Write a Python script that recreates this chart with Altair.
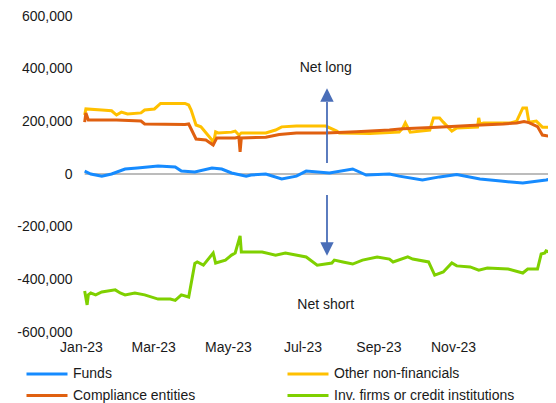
import altair as alt
import pandas as pd

# Legend order (Vega fills the 2-column legend column by column)
SERIES = ["Funds", "Compliance entities", "Other non-financials", "Inv. firms or credit institutions"]
COLORS = ["#168BFF", "#E06010", "#FFC000", "#7FD000"]

funds_dates = ["2023-01-04", "2023-01-09", "2023-01-18", "2023-01-26", "2023-02-06", "2023-02-16", "2023-03-05",
               "2023-03-19", "2023-03-24", "2023-04-04", "2023-04-18", "2023-04-26", "2023-05-04", "2023-05-16",
               "2023-05-20", "2023-06-01", "2023-06-14", "2023-06-26", "2023-07-04", "2023-07-23", "2023-08-11",
               "2023-08-22", "2023-09-10", "2023-09-18", "2023-10-07", "2023-10-21", "2023-11-04", "2023-11-23",
               "2023-12-10", "2023-12-28", "2024-01-16", "2024-01-24"]
funds_vals = [11000, 0, -8000, 0, 19000, 23000, 30000, 27000, 11000, 8000, 23000, 19000, 4000, -8000,
              -4000, 0, -19000, -8000, 11000, 4000, 19000, -4000, 0, -8000, -23000, -11000, -2000, -19000,
              -27000, -34000, -23000, -15000]

other_dates = ["2023-01-04", "2023-01-05", "2023-01-18", "2023-01-26", "2023-01-30", "2023-02-03", "2023-02-08",
               "2023-02-19", "2023-02-22", "2023-03-02", "2023-03-07", "2023-03-27", "2023-03-30", "2023-04-01",
               "2023-04-05", "2023-04-09", "2023-04-18", "2023-04-19", "2023-04-21", "2023-04-23", "2023-05-04",
               "2023-05-07", "2023-05-10", "2023-05-12", "2023-06-01", "2023-06-09", "2023-06-14", "2023-06-26",
               "2023-07-20", "2023-07-29", "2023-07-31", "2023-08-25", "2023-09-18", "2023-09-21", "2023-09-23",
               "2023-09-27", "2023-10-13", "2023-10-16", "2023-10-21", "2023-10-24", "2023-10-31", "2023-11-04",
               "2023-11-21", "2023-11-22", "2023-11-23", "2023-11-26", "2023-12-18", "2023-12-23", "2023-12-28",
               "2023-12-31", "2024-01-02", "2024-01-08", "2024-01-13", "2024-01-24"]
other_vals = [224000, 247000, 243000, 240000, 224000, 235000, 228000, 232000, 243000, 247000, 268000, 268000,
              262000, 243000, 186000, 179000, 129000, 110000, 160000, 156000, 159000, 163000, 148000, 156000,
              156000, 167000, 179000, 182000, 182000, 163000, 156000, 154000, 159000, 175000, 194000, 159000,
              167000, 213000, 213000, 197000, 163000, 175000, 178000, 213000, 190000, 194000, 194000, 201000,
              251000, 251000, 197000, 201000, 178000, 178000]

compl_dates = ["2023-01-04", "2023-01-05", "2023-01-07", "2023-01-30", "2023-02-19", "2023-02-22", "2023-03-27",
               "2023-03-30", "2023-04-05", "2023-04-13", "2023-04-19", "2023-04-22", "2023-05-07", "2023-05-10",
               "2023-05-11", "2023-05-12", "2023-06-01", "2023-06-12", "2023-06-26", "2023-07-20", "2023-08-14",
               "2023-09-10", "2023-09-21", "2023-10-19", "2023-11-15", "2023-12-12", "2023-12-23", "2023-12-29",
               "2024-01-02", "2024-01-09", "2024-01-13", "2024-01-24"]
compl_vals = [197000, 232000, 205000, 205000, 201000, 190000, 188000, 190000, 133000, 129000, 110000, 137000,
              137000, 140000, 84000, 137000, 140000, 150000, 156000, 156000, 160000, 167000, 172000, 178000,
              184000, 190000, 194000, 199000, 195000, 180000, 148000, 139000]

inv_dates = ["2023-01-04", "2023-01-06", "2023-01-07", "2023-01-09", "2023-01-13", "2023-01-18", "2023-01-29",
             "2023-02-02", "2023-02-06", "2023-02-14", "2023-02-22", "2023-03-05", "2023-03-15", "2023-03-19",
             "2023-03-24", "2023-03-30", "2023-04-04", "2023-04-06", "2023-04-11", "2023-04-19", "2023-04-21",
             "2023-04-29", "2023-05-04", "2023-05-07", "2023-05-11", "2023-05-12", "2023-05-29", "2023-06-09",
             "2023-06-17", "2023-07-04", "2023-07-13", "2023-07-25", "2023-07-27", "2023-08-03", "2023-08-11",
             "2023-08-19", "2023-08-31", "2023-09-10", "2023-09-13", "2023-09-25", "2023-09-29", "2023-10-12",
             "2023-10-17", "2023-10-24", "2023-10-31", "2023-11-04", "2023-11-15", "2023-11-22", "2023-11-29",
             "2023-12-16", "2023-12-28", "2024-01-01", "2024-01-09", "2024-01-12", "2024-01-15", "2024-01-16",
             "2024-01-21", "2024-01-24"]
inv_vals = [-444000, -497000, -459000, -452000, -459000, -448000, -440000, -452000, -459000, -452000, -459000,
            -475000, -475000, -480000, -459000, -467000, -340000, -334000, -346000, -300000, -338000, -327000,
            -308000, -300000, -235000, -296000, -296000, -308000, -300000, -315000, -346000, -338000, -327000,
            -334000, -342000, -327000, -315000, -323000, -334000, -315000, -323000, -334000, -384000, -372000,
            -338000, -349000, -353000, -365000, -357000, -361000, -376000, -361000, -361000, -304000, -300000,
            -292000, -300000, -308000]

y_ticks = [-600000, -400000, -200000, 0, 200000, 400000, 600000]
x_tick_months = [(2023, 1), (2023, 3), (2023, 5), (2023, 7), (2023, 9), (2023, 11)]

arrow_date = "2023-07-21"
arrow_rules = {"y": [273000, -80000], "y2": [42000, -262000]}
arrow_heads = {"y": [300000, -285000], "shape": ["M-1,1L1,1L0,-1Z", "M-1,-1L1,-1L0,1Z"]}
notes = {"text": ["Net long", "Net short"], "y": [402000, -497000]}
note_date = "2023-07-20"

frames = []
for name, d, v in [("Funds", funds_dates, funds_vals), ("Other non-financials", other_dates, other_vals),
                   ("Compliance entities", compl_dates, compl_vals),
                   ("Inv. firms or credit institutions", inv_dates, inv_vals)]:
    frames.append(pd.DataFrame({"date": pd.to_datetime(d), "value": v, "series": name}))
df = pd.concat(frames, ignore_index=True)

FONT = "Liberation Sans"
TXT = "#1a1a1a"

x_scale = alt.Scale(domain=[alt.DateTime(year=2023, month=1, date=1),
                            alt.DateTime(year=2024, month=1, date=17, hours=14)])
y_scale = alt.Scale(domain=[-600000, 600000])

x_axis = alt.Axis(values=[alt.DateTime(year=y, month=m, date=1) for y, m in x_tick_months], format="%b-%y",
                  title=None, grid=False, domain=False, ticks=False, labelPadding=8, labelFlush=False)
y_axis = alt.Axis(values=y_ticks, title=None, grid=False, domain=False, ticks=False, labelPadding=9,
                  labelFlush=False,
                  labelExpr="(datum.value < 0 ? '-' : '') + format(abs(datum.value), ',')")

color = alt.Color("series:N", sort=SERIES, scale=alt.Scale(domain=SERIES, range=COLORS),
                  legend=alt.Legend(orient="none", legendX=-56, legendY=350, columns=2, columnPadding=90,
                                    symbolType="stroke", symbolSize=1681, symbolStrokeWidth=3,
                                    labelFontSize=14, labelFont=FONT, labelColor=TXT, labelOffset=4,
                                    labelLimit=0, title=None, clipHeight=16, rowPadding=5.5, padding=0,
                                    offset=0))

zero_df = pd.DataFrame({"start": [df["date"].min()], "end": [df["date"].max()], "v": [0]})
zero = alt.Chart(zero_df).mark_rule(color="#A6A6A6", strokeWidth=1.5, clip=True).encode(
    x=alt.X("start:T", scale=x_scale, axis=x_axis), x2="end:T",
    y=alt.Y("v:Q", scale=y_scale, axis=y_axis))

base = alt.Chart(df).mark_line(strokeWidth=3, clip=True).encode(
    x=alt.X("date:T", scale=x_scale, axis=x_axis),
    y=alt.Y("value:Q", scale=y_scale, axis=y_axis),
    color=color,
    order=alt.Order("date:T"),
)
lines_back = base.transform_filter(alt.datum.series != "Compliance entities")
lines_front = base.transform_filter(alt.datum.series == "Compliance entities")

ar_df = pd.DataFrame({"date": pd.to_datetime([arrow_date] * 2), "y": arrow_rules["y"], "y2": arrow_rules["y2"]})
arrows = alt.Chart(ar_df).mark_rule(color="#4A6EB8", strokeWidth=1.8).encode(
    x="date:T", y="y:Q", y2="y2:Q")

ah_df = pd.DataFrame({"date": pd.to_datetime([arrow_date] * 2), "y": arrow_heads["y"], "shape": arrow_heads["shape"]})
heads = alt.Chart(ah_df).mark_point(filled=True, color="#4A6EB8", size=180, opacity=1, strokeWidth=0).encode(
    x="date:T", y="y:Q", shape=alt.Shape("shape:N", scale=None, legend=None))

nt_df = pd.DataFrame({"date": pd.to_datetime([note_date] * 2), "y": notes["y"], "text": notes["text"]})
texts = alt.Chart(nt_df).mark_text(font=FONT, fontSize=14, color=TXT, align="center", baseline="middle").encode(
    x="date:T", y="y:Q", text="text:N")

chart = alt.layer(zero, lines_back, lines_front, arrows, heads, texts).properties(
    width=467, height=316,
    autosize=alt.AutoSizeParams(type="none"),
    padding={"left": 73, "top": 8, "right": 0, "bottom": 71},
).configure_view(stroke=None).configure_axis(
    labelFont=FONT, labelFontSize=14, labelColor=TXT
)

chart.save("out.html", embed_options={"renderer": "svg", "actions": False})
